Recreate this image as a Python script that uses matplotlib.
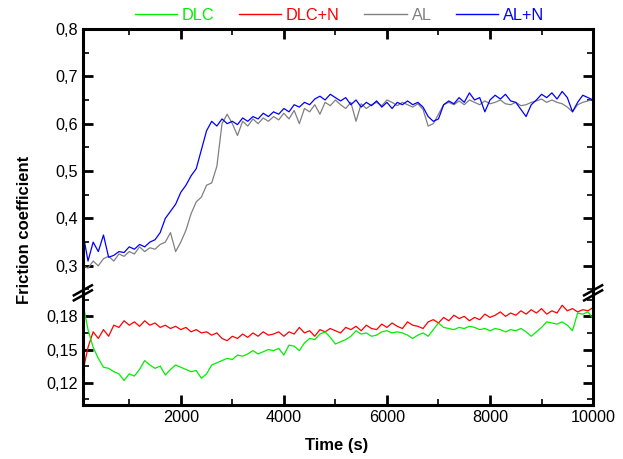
import matplotlib.pyplot as plt
from matplotlib.lines import Line2D
from matplotlib.ticker import FuncFormatter, MultipleLocator

plt.rcParams['font.family'] = ['Liberation Sans', 'DejaVu Sans']
plt.rcParams['font.size'] = 11.7

time = list(range(100, 10001, 100))

al_n = [0.37, 0.31, 0.35, 0.33, 0.365, 0.318, 0.322, 0.33, 0.328, 0.34,
        0.335, 0.345, 0.34, 0.35, 0.355, 0.37, 0.40, 0.415, 0.43, 0.455,
        0.47, 0.49, 0.505, 0.545, 0.585, 0.605, 0.595, 0.61, 0.60, 0.605,
        0.598, 0.612, 0.605, 0.615, 0.61, 0.622, 0.615, 0.625, 0.62, 0.632,
        0.625, 0.64, 0.635, 0.645, 0.64, 0.652, 0.658, 0.65, 0.662, 0.655,
        0.648, 0.655, 0.64, 0.65, 0.635, 0.645, 0.638, 0.648, 0.635, 0.645,
        0.632, 0.645, 0.64, 0.648, 0.64, 0.645, 0.635, 0.615, 0.605, 0.61,
        0.64, 0.648, 0.642, 0.655, 0.645, 0.665, 0.65, 0.655, 0.625, 0.65,
        0.66, 0.652, 0.662, 0.648, 0.645, 0.63, 0.615, 0.64, 0.65, 0.662,
        0.655, 0.665, 0.652, 0.668, 0.655, 0.625, 0.645, 0.66, 0.655, 0.65]

al = [0.30, 0.295, 0.31, 0.30, 0.315, 0.32, 0.31, 0.325, 0.32, 0.33,
      0.325, 0.34, 0.33, 0.338, 0.335, 0.345, 0.35, 0.37, 0.33, 0.35,
      0.375, 0.41, 0.435, 0.445, 0.47, 0.475, 0.51, 0.60, 0.62, 0.60,
      0.575, 0.605, 0.595, 0.61, 0.60, 0.612, 0.605, 0.615, 0.608, 0.622,
      0.61, 0.628, 0.60, 0.632, 0.625, 0.64, 0.62, 0.645, 0.638, 0.65,
      0.64, 0.632, 0.645, 0.605, 0.642, 0.632, 0.64, 0.645, 0.638, 0.65,
      0.645, 0.638, 0.645, 0.64, 0.635, 0.642, 0.63, 0.595, 0.60, 0.62,
      0.64, 0.645, 0.64, 0.648, 0.64, 0.65, 0.645, 0.64, 0.648, 0.642,
      0.645, 0.65, 0.642, 0.64, 0.645, 0.638, 0.64, 0.645, 0.648, 0.652,
      0.645, 0.65, 0.645, 0.642, 0.635, 0.625, 0.64, 0.645, 0.648, 0.652]

dlc_n = [0.13, 0.152, 0.166, 0.16, 0.168, 0.162, 0.172, 0.17, 0.176, 0.172,
         0.175, 0.171, 0.176, 0.172, 0.174, 0.17, 0.172, 0.169, 0.171, 0.168,
         0.17, 0.166, 0.168, 0.165, 0.166, 0.163, 0.165, 0.16, 0.158, 0.162,
         0.16, 0.164, 0.161, 0.165, 0.162, 0.166, 0.163, 0.164, 0.166, 0.162,
         0.166, 0.164, 0.17, 0.165, 0.167, 0.162, 0.168, 0.166, 0.169, 0.167,
         0.165, 0.17, 0.168, 0.171, 0.167, 0.172, 0.169, 0.168, 0.173, 0.17,
         0.174, 0.171, 0.169, 0.175, 0.172, 0.171, 0.169, 0.175, 0.177, 0.174,
         0.179, 0.176, 0.181, 0.178, 0.18, 0.176, 0.179, 0.177, 0.182, 0.179,
         0.181, 0.184, 0.18, 0.183, 0.181, 0.185, 0.182, 0.186, 0.183, 0.187,
         0.182, 0.185, 0.183, 0.19, 0.185, 0.187, 0.184, 0.186, 0.185, 0.188]

dlc = [0.192, 0.168, 0.152, 0.142, 0.134, 0.133, 0.13, 0.128, 0.122, 0.128,
       0.126, 0.132, 0.14, 0.136, 0.133, 0.135, 0.127, 0.132, 0.136, 0.134,
       0.132, 0.13, 0.131, 0.124, 0.128, 0.136, 0.138, 0.14, 0.142, 0.141,
       0.145, 0.144, 0.146, 0.149, 0.146, 0.148, 0.15, 0.149, 0.151, 0.145,
       0.154, 0.153, 0.149, 0.156, 0.16, 0.159, 0.164, 0.166, 0.161, 0.155,
       0.157, 0.159, 0.162, 0.167, 0.164, 0.165, 0.162, 0.163, 0.166, 0.167,
       0.165, 0.166, 0.165, 0.163, 0.16, 0.163, 0.165, 0.162, 0.168, 0.174,
       0.17, 0.169, 0.168, 0.17, 0.169, 0.171, 0.17, 0.168, 0.169, 0.167,
       0.169, 0.168, 0.166, 0.168, 0.167, 0.169, 0.166, 0.162, 0.166, 0.17,
       0.175, 0.174, 0.173, 0.175, 0.172, 0.167, 0.183, 0.182, 0.184, 0.178]

names = ['DLC', 'DLC+N', 'AL', 'AL+N']
colors = ['#00ee00', '#ff0000', '#808080', '#0000ff']

fig = plt.figure(figsize=(6.23, 4.59), dpi=100)
left, right = 0.133, 0.952
bottom, brk, top = 0.118, 0.359, 0.937
ax_hi = fig.add_axes([left, brk, right - left, top - brk])
ax_lo = fig.add_axes([left, bottom, right - left, brk - bottom])

ax_hi.plot(time, al, color=colors[2], lw=0.9)
ax_hi.plot(time, al_n, color=colors[3], lw=0.9)
ax_lo.plot(time, dlc_n, color=colors[1], lw=0.9)
ax_lo.plot(time, dlc, color=colors[0], lw=0.9)

for ax in (ax_hi, ax_lo):
    ax.set_xlim(100, 10000)
    for s in ax.spines.values():
        s.set_linewidth(2.2)
    ax.xaxis.set_major_locator(MultipleLocator(2000))
    ax.xaxis.set_minor_locator(MultipleLocator(1000))
    ax.tick_params(which='major', direction='in', length=7, width=2, labelsize=11.7)
    ax.tick_params(which='minor', direction='in', length=4, width=1.2)
    ax.tick_params(which='both', left=True, right=True)

ax_hi.set_ylim(0.24, 0.8)
ax_hi.yaxis.set_major_locator(MultipleLocator(0.1))
ax_hi.yaxis.set_minor_locator(MultipleLocator(0.05))
ax_hi.yaxis.set_major_formatter(FuncFormatter(lambda v, p: f"{v:.1f}".replace('.', ',')))
ax_hi.spines['bottom'].set_visible(False)
ax_hi.tick_params(which='both', bottom=False, top=True, labelbottom=False)

ax_lo.set_ylim(0.10, 0.20)
ax_lo.set_yticks([0.12, 0.15, 0.18])
ax_lo.set_yticks([0.105, 0.135, 0.165, 0.195], minor=True)
ax_lo.yaxis.set_major_formatter(FuncFormatter(lambda v, p: f"{v:.2f}".replace('.', ',')))
ax_lo.spines['top'].set_visible(False)
ax_lo.tick_params(which='both', top=False)
ax_lo.xaxis.set_major_formatter(FuncFormatter(lambda v, p: f"{int(v)}"))

# break marks "//" across both side spines
for xs in (left, right):
    for dy in (-0.0055, 0.0055):
        yc = 0.362 + dy
        fig.add_artist(Line2D([xs - 0.0145, xs + 0.0145], [yc - 0.011, yc + 0.011],
                              transform=fig.transFigure, color='black', lw=1.8))

fig.text(0.04, 0.5, 'Friction coefficient', rotation=90, ha='center', va='center',
         fontsize=12, fontweight='bold')
fig.text(0.541, 0.03, 'Time (s)', ha='center', va='center', fontsize=12, fontweight='bold')

handles = [Line2D([], [], color=c, lw=1) for c in colors]
fig.legend(handles, names, loc='center', bbox_to_anchor=(0.545, 0.967), ncol=4,
           frameon=False, labelcolor='linecolor', handlelength=2.6, handletextpad=0.3,
           columnspacing=1.5, fontsize=11.7)

fig.savefig('out.png', dpi=100)
